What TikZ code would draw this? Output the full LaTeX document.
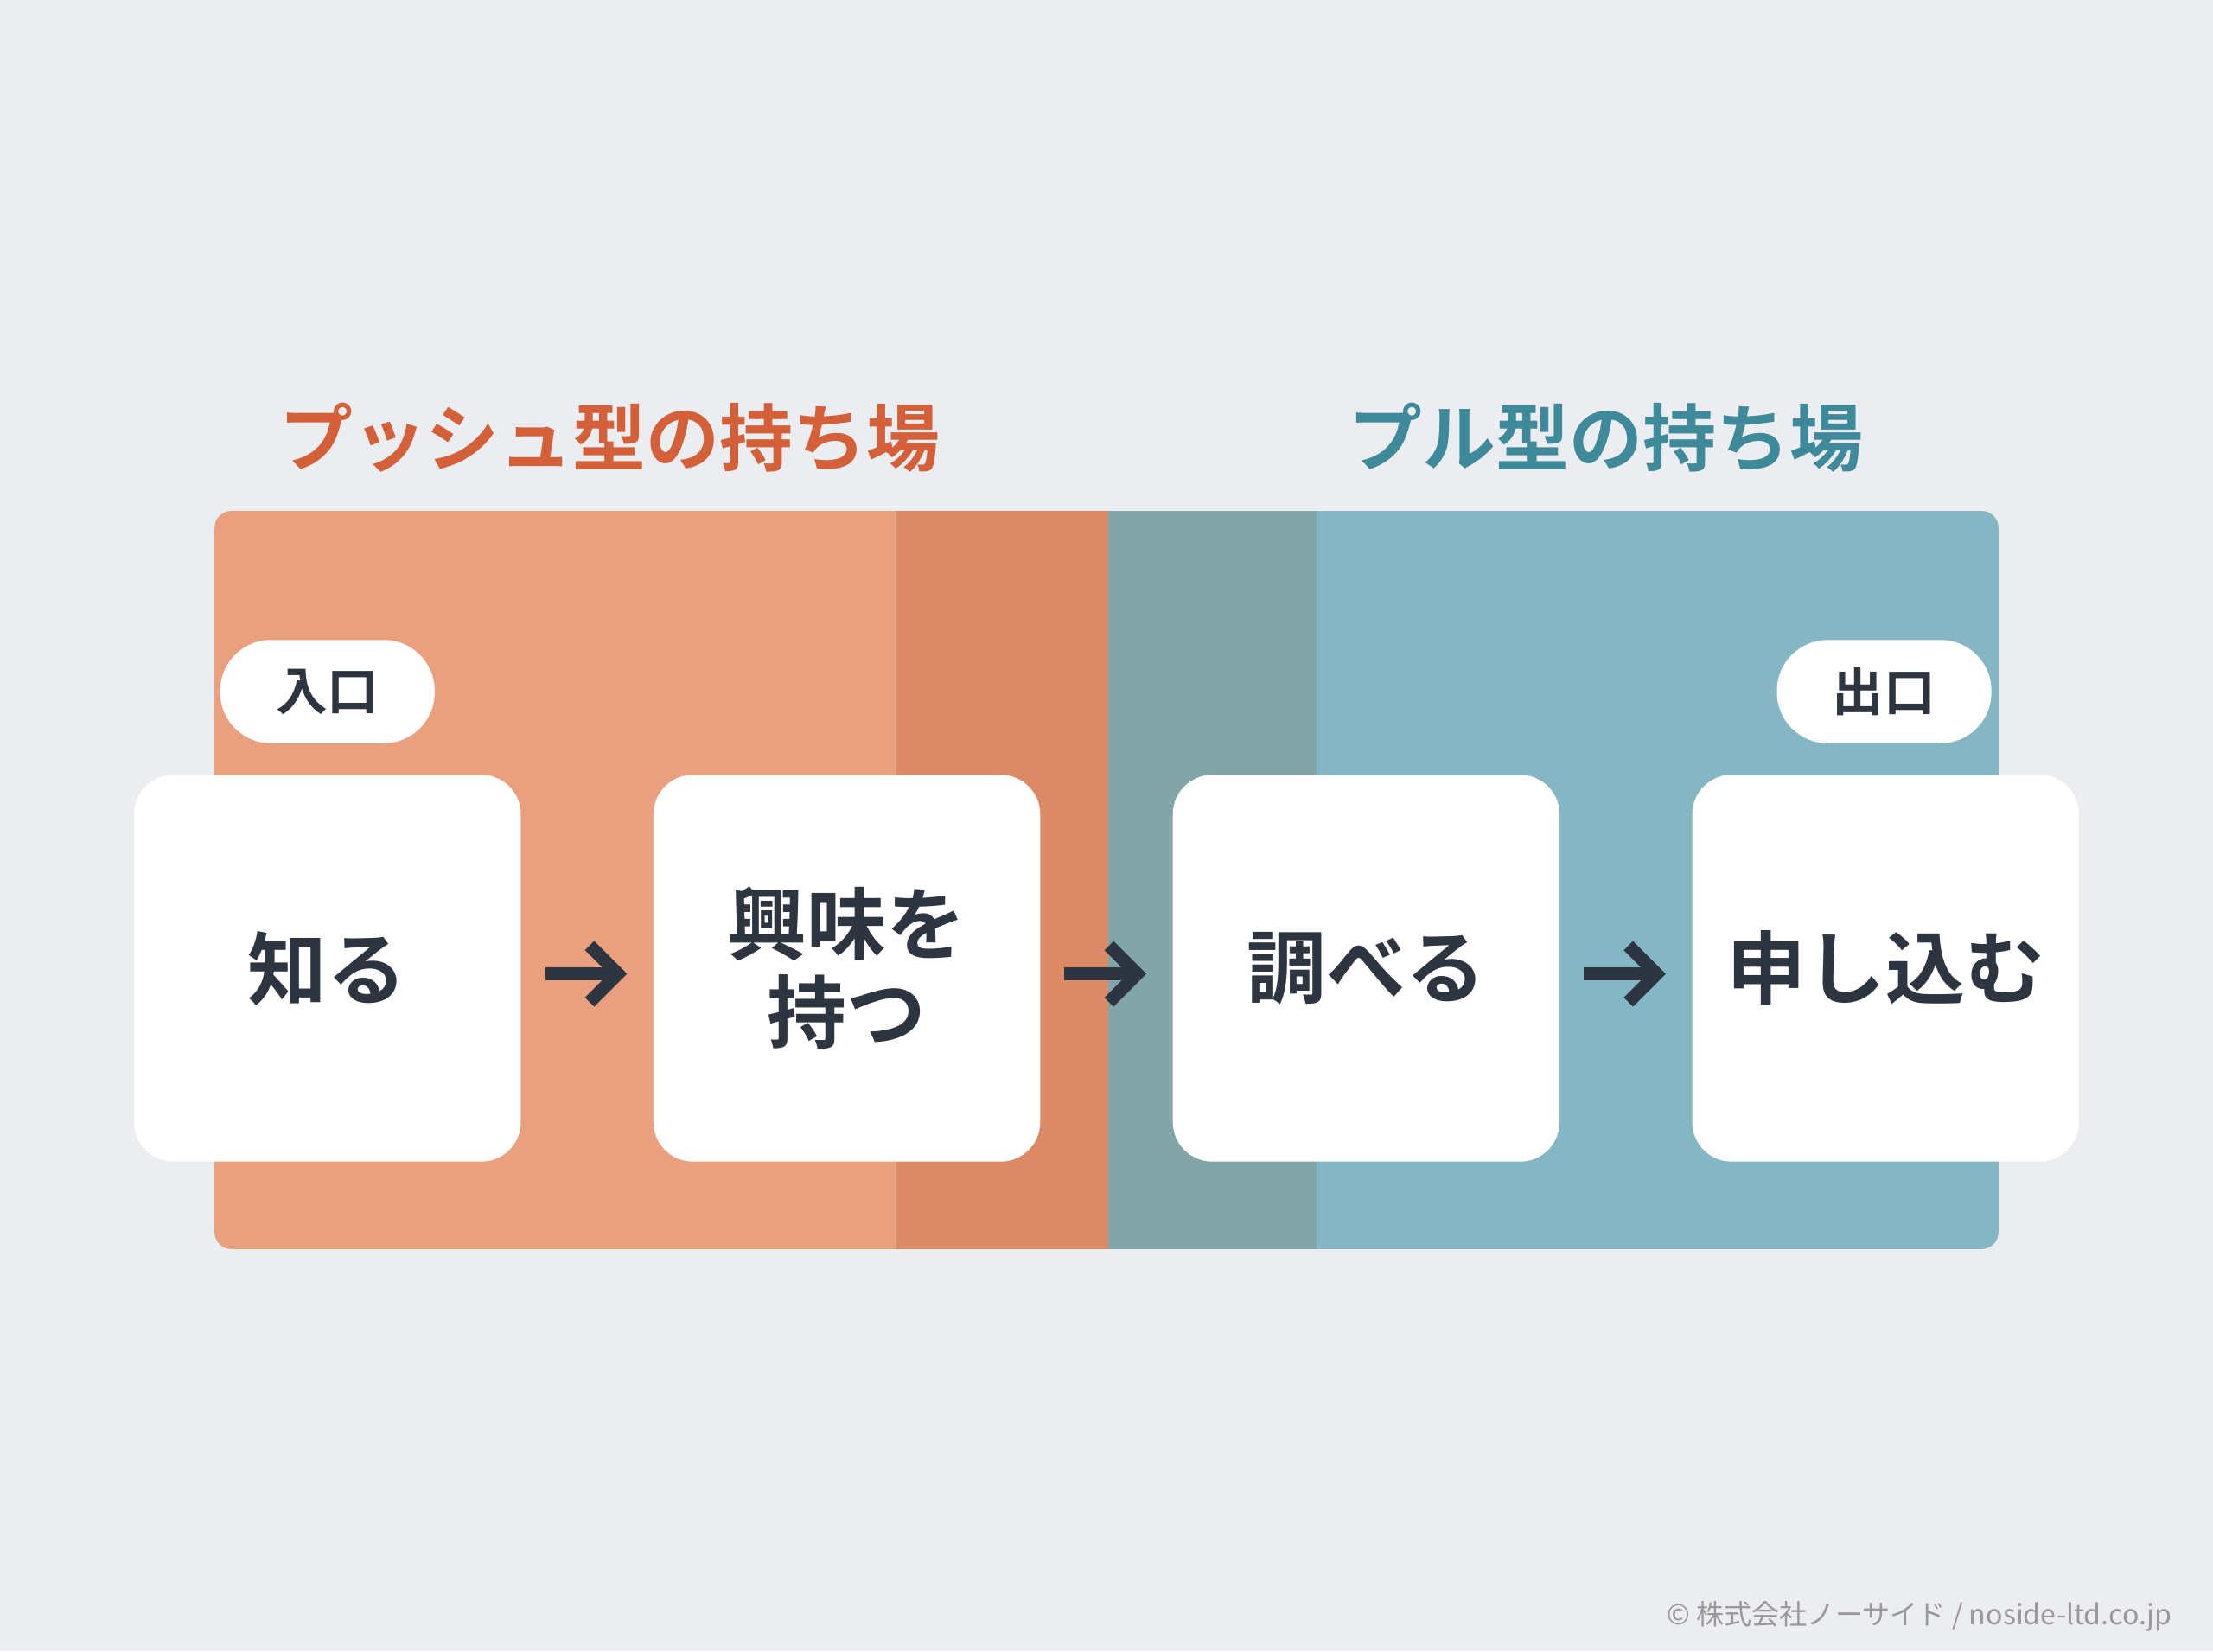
\documentclass[tikz,border=0pt]{standalone}
\usepackage{fontspec}
\newfontfamily\jp{Noto Sans CJK JP}[BoldFont={Noto Sans CJK JP Bold}]
\usetikzlibrary{arrows.meta}
\definecolor{bg}{HTML}{EBEDF0}
\definecolor{org}{HTML}{E9A07F}
\definecolor{orgd}{HTML}{DC8A66}
\definecolor{teal}{HTML}{85B6C4}
\definecolor{teald}{HTML}{82A5A8}
\definecolor{torg}{HTML}{D4603A}
\definecolor{tteal}{HTML}{3E8A9A}
\definecolor{ink}{HTML}{2D3540}
\begin{document}
\begin{tikzpicture}[x=0.25mm,y=-0.25mm,
 box/.style={fill=white,rounded corners=7mm,minimum width=68.5mm,minimum height=68.5mm,inner sep=0,align=center,font=\jp\bfseries\fontsize{40}{50}\selectfont,text=ink},
 pill/.style={fill=white,rounded corners=9mm,minimum width=38mm,minimum height=18.3mm,inner sep=0,font=\jp\bfseries\fontsize{26}{30}\selectfont,text=ink},
 title/.style={font=\jp\bfseries\fontsize{37}{40}\selectfont},
 arr/.style={ink,line width=2.3mm,-{Straight Barb[length=5mm,width=10mm]}}]
\fill[bg] (0,0) rectangle (1568,1170);
\useasboundingbox (0,0) rectangle (1568,1170);
\begin{scope}
\clip[rounded corners=3mm] (152,362) rectangle (1416,885);
\fill[org] (152,362) rectangle (785,885);
\fill[orgd] (635,362) rectangle (785,885);
\fill[teal] (785,362) rectangle (1416,885);
\fill[teald] (785,362) rectangle (933,885);
\end{scope}
\node[title,text=torg] (t1) at (432,310) {プッシュ型の持ち場};
\node[title,text=tteal] (t2) at (1138,310) {プル型の持ち場};
\node[pill] (in) at (232,490) {入口};
\node[pill] (out) at (1335,490) {出口};
\node[box] (b1) at (232,686) {知る};
\node[box] (b2) at (600,686) {興味を\\[-2mm]持つ};
\node[box] (b3) at (968,686) {調べる};
\node[box] (b4) at (1336,686) {申し込む};
\draw[arr] (b1.east)++(17,4) -- ++(58,0);
\draw[arr] (b2.east)++(17,4) -- ++(58,0);
\draw[arr] (b3.east)++(17,4) -- ++(58,0);
\node[anchor=east,font=\jp\fontsize{14}{16}\selectfont,text=gray!80] (ft) at (1544,1145) {© 株式会社ノーサイド / noside-ltd.co.jp};
\end{tikzpicture}
\end{document}
